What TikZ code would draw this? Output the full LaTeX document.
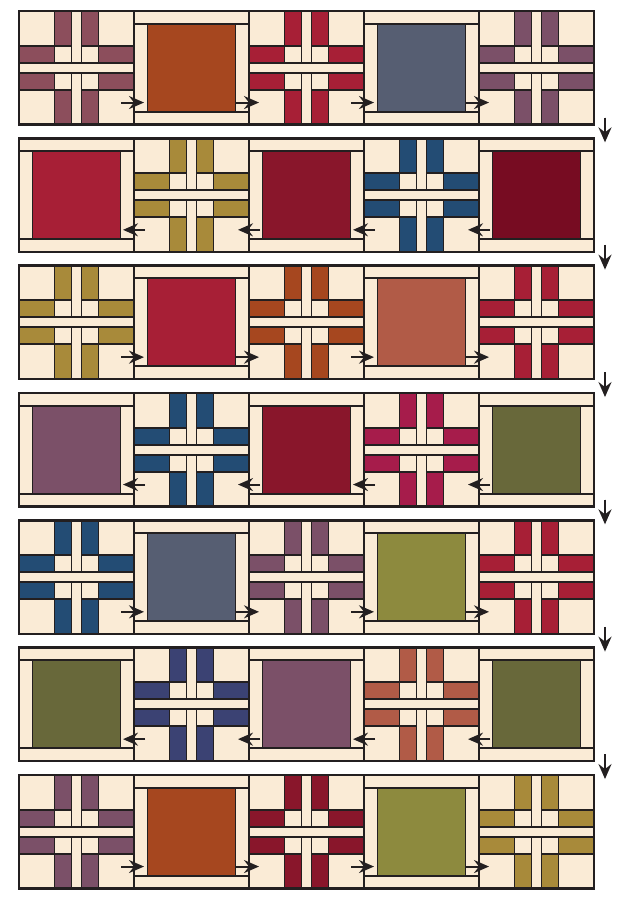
\documentclass[tikz,border=0pt]{standalone}
\usepackage{xcolor}
\usetikzlibrary{arrows.meta,calc,fit}
\definecolor{ink}{HTML}{231F20}
\definecolor{cream}{HTML}{FAEBD6}
\definecolor{mauve}{HTML}{8C4E5C}
\definecolor{plum}{HTML}{7B5068}
\definecolor{rust}{HTML}{A6471F}
\definecolor{claret}{HTML}{A71F36}
\definecolor{slate}{HTML}{565E72}
\definecolor{ochre}{HTML}{A88A3A}
\definecolor{wine}{HTML}{89162B}
\definecolor{oxblood}{HTML}{770C22}
\definecolor{navy}{HTML}{234C74}
\definecolor{terracotta}{HTML}{B15B47}
\definecolor{raspberry}{HTML}{A61C4B}
\definecolor{moss}{HTML}{68683A}
\definecolor{olive}{HTML}{8D8A3E}
\definecolor{indigo}{HTML}{3B4273}

\begin{document}
\begin{tikzpicture}[
  x=1pt,y=1pt,
  seam/.style={draw=ink,line width=1.8pt},
  flow/.style={-{Stealth[length=15pt,width=13pt,inset=5pt]},draw=ink,fill=ink,line width=2pt},
  block/.style={minimum width=115pt,minimum height=113.5pt,inner sep=0pt,outer sep=0pt},
  rowframe/.style={draw=ink,line width=2.6pt,inner sep=0pt,outer sep=0pt},
  pics/plaid/.style={code={
    \node[block] (-box) {};
    \fill[cream] (-57.5,-56.75) rectangle (57.5,56.75);
    \filldraw[seam,fill=#1] (5,22) rectangle (22,56.75) (-5,22) rectangle (-22,56.75)
      (5,-22) rectangle (22,-56.75) (-5,-22) rectangle (-22,-56.75);
    \filldraw[seam,fill=#1] (22,5) rectangle (57.5,22) (-22,5) rectangle (-57.5,22)
      (22,-5) rectangle (57.5,-22) (-22,-5) rectangle (-57.5,-22);
    \draw[seam] (-57.5,5) -- (57.5,5) (-57.5,-5) -- (57.5,-5)
      (5,5) -- (5,56.75) (-5,5) -- (-5,56.75) (5,-5) -- (5,-56.75) (-5,-5) -- (-5,-56.75);
    \draw[seam] (-57.5,-56.75) rectangle (57.5,56.75);
  }},
  pics/framed/.style={code={
    \node[block] (-box) {};
    \fill[cream] (-57.5,-56.75) rectangle (57.5,56.75);
    \draw[seam] (-57.5,44) -- (57.5,44) (-57.5,-44) -- (57.5,-44);
    \filldraw[seam,fill=#1] (-44,-44) rectangle (44,44);
    \draw[seam] (-57.5,-56.75) rectangle (57.5,56.75);
  }}
]
\useasboundingbox (0,0) rectangle (621,898);

% Row 1
\pic (b11) at (76.5,830.2) {plaid=mauve};
\pic (b12) at (191.5,830.2) {framed=rust};
\pic (b13) at (306.5,830.2) {plaid=claret};
\pic (b14) at (421.5,830.2) {framed=slate};
\pic (b15) at (536.5,830.2) {plaid=plum};

% Row 2
\pic (b21) at (76.5,702.9) {framed=claret};
\pic (b22) at (191.5,702.9) {plaid=ochre};
\pic (b23) at (306.5,702.9) {framed=wine};
\pic (b24) at (421.5,702.9) {plaid=navy};
\pic (b25) at (536.5,702.9) {framed=oxblood};

% Row 3
\pic (b31) at (76.5,575.6) {plaid=ochre};
\pic (b32) at (191.5,575.6) {framed=claret};
\pic (b33) at (306.5,575.6) {plaid=rust};
\pic (b34) at (421.5,575.6) {framed=terracotta};
\pic (b35) at (536.5,575.6) {plaid=claret};

% Row 4
\pic (b41) at (76.5,448.2) {framed=plum};
\pic (b42) at (191.5,448.2) {plaid=navy};
\pic (b43) at (306.5,448.2) {framed=wine};
\pic (b44) at (421.5,448.2) {plaid=raspberry};
\pic (b45) at (536.5,448.2) {framed=moss};

% Row 5
\pic (b51) at (76.5,320.9) {plaid=navy};
\pic (b52) at (191.5,320.9) {framed=slate};
\pic (b53) at (306.5,320.9) {plaid=plum};
\pic (b54) at (421.5,320.9) {framed=olive};
\pic (b55) at (536.5,320.9) {plaid=claret};

% Row 6
\pic (b61) at (76.5,193.6) {framed=moss};
\pic (b62) at (191.5,193.6) {plaid=indigo};
\pic (b63) at (306.5,193.6) {framed=plum};
\pic (b64) at (421.5,193.6) {plaid=terracotta};
\pic (b65) at (536.5,193.6) {framed=moss};

% Row 7
\pic (b71) at (76.5,66.2) {plaid=plum};
\pic (b72) at (191.5,66.2) {framed=rust};
\pic (b73) at (306.5,66.2) {plaid=wine};
\pic (b74) at (421.5,66.2) {framed=olive};
\pic (b75) at (536.5,66.2) {plaid=ochre};

% Row borders
\node[rowframe,fit=(b11-box)(b15-box)] (row1) {};
\node[rowframe,fit=(b21-box)(b25-box)] (row2) {};
\node[rowframe,fit=(b31-box)(b35-box)] (row3) {};
\node[rowframe,fit=(b41-box)(b45-box)] (row4) {};
\node[rowframe,fit=(b51-box)(b55-box)] (row5) {};
\node[rowframe,fit=(b61-box)(b65-box)] (row6) {};
\node[rowframe,fit=(b71-box)(b75-box)] (row7) {};

% Sewing order: left to right
\draw[flow] ($(b11-box.south east)+(-13,22)$) -- ($(b12-box.south west)+(10,22)$);
\draw[flow] ($(b12-box.south east)+(-13,22)$) -- ($(b13-box.south west)+(10,22)$);
\draw[flow] ($(b13-box.south east)+(-13,22)$) -- ($(b14-box.south west)+(10,22)$);
\draw[flow] ($(b14-box.south east)+(-13,22)$) -- ($(b15-box.south west)+(10,22)$);

\draw[flow] ($(b31-box.south east)+(-13,22)$) -- ($(b32-box.south west)+(10,22)$);
\draw[flow] ($(b32-box.south east)+(-13,22)$) -- ($(b33-box.south west)+(10,22)$);
\draw[flow] ($(b33-box.south east)+(-13,22)$) -- ($(b34-box.south west)+(10,22)$);
\draw[flow] ($(b34-box.south east)+(-13,22)$) -- ($(b35-box.south west)+(10,22)$);

\draw[flow] ($(b51-box.south east)+(-13,22)$) -- ($(b52-box.south west)+(10,22)$);
\draw[flow] ($(b52-box.south east)+(-13,22)$) -- ($(b53-box.south west)+(10,22)$);
\draw[flow] ($(b53-box.south east)+(-13,22)$) -- ($(b54-box.south west)+(10,22)$);
\draw[flow] ($(b54-box.south east)+(-13,22)$) -- ($(b55-box.south west)+(10,22)$);

\draw[flow] ($(b71-box.south east)+(-13,22)$) -- ($(b72-box.south west)+(10,22)$);
\draw[flow] ($(b72-box.south east)+(-13,22)$) -- ($(b73-box.south west)+(10,22)$);
\draw[flow] ($(b73-box.south east)+(-13,22)$) -- ($(b74-box.south west)+(10,22)$);
\draw[flow] ($(b74-box.south east)+(-13,22)$) -- ($(b75-box.south west)+(10,22)$);

% Sewing order: right to left
\draw[flow] ($(b25-box.south west)+(11,22)$) -- ($(b24-box.south east)+(-11,22)$);
\draw[flow] ($(b24-box.south west)+(11,22)$) -- ($(b23-box.south east)+(-11,22)$);
\draw[flow] ($(b23-box.south west)+(11,22)$) -- ($(b22-box.south east)+(-11,22)$);
\draw[flow] ($(b22-box.south west)+(11,22)$) -- ($(b21-box.south east)+(-11,22)$);

\draw[flow] ($(b45-box.south west)+(11,22)$) -- ($(b44-box.south east)+(-11,22)$);
\draw[flow] ($(b44-box.south west)+(11,22)$) -- ($(b43-box.south east)+(-11,22)$);
\draw[flow] ($(b43-box.south west)+(11,22)$) -- ($(b42-box.south east)+(-11,22)$);
\draw[flow] ($(b42-box.south west)+(11,22)$) -- ($(b41-box.south east)+(-11,22)$);

\draw[flow] ($(b65-box.south west)+(11,22)$) -- ($(b64-box.south east)+(-11,22)$);
\draw[flow] ($(b64-box.south west)+(11,22)$) -- ($(b63-box.south east)+(-11,22)$);
\draw[flow] ($(b63-box.south west)+(11,22)$) -- ($(b62-box.south east)+(-11,22)$);
\draw[flow] ($(b62-box.south west)+(11,22)$) -- ($(b61-box.south east)+(-11,22)$);

% Row to row
\draw[flow] ($(row1.south east)+(11,7)$) -- ($(row2.north east)+(11,-4)$);
\draw[flow] ($(row2.south east)+(11,7)$) -- ($(row3.north east)+(11,-4)$);
\draw[flow] ($(row3.south east)+(11,7)$) -- ($(row4.north east)+(11,-4)$);
\draw[flow] ($(row4.south east)+(11,7)$) -- ($(row5.north east)+(11,-4)$);
\draw[flow] ($(row5.south east)+(11,7)$) -- ($(row6.north east)+(11,-4)$);
\draw[flow] ($(row6.south east)+(11,7)$) -- ($(row7.north east)+(11,-4)$);

\end{tikzpicture}
\end{document}
